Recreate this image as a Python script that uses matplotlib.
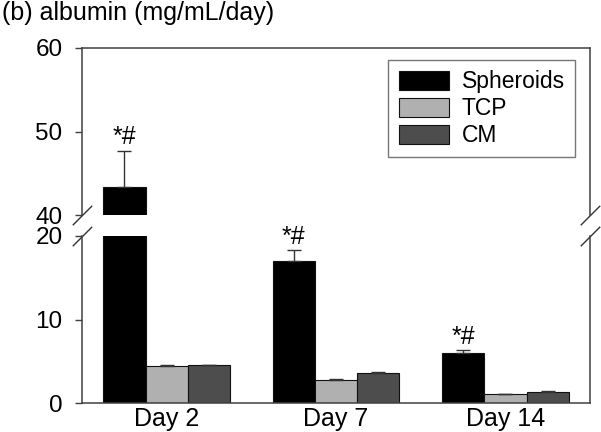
import numpy as np
import matplotlib
matplotlib.use('Agg')
from matplotlib import pyplot as plt

plt.rcParams['font.family'] = ['Liberation Sans', 'DejaVu Sans']

days = ['Day 2', 'Day 7', 'Day 14']
groups = ['Spheroids', 'TCP', 'CM']
spheroids = [43.4, 17.0, 6.0]
spheroids_err = [4.3, 1.3, 0.3]
tcp = [4.45, 2.75, 1.05]
tcp_err = [0.08, 0.08, 0.05]
cm = [4.5, 3.6, 1.3]
cm_err = [0.08, 0.08, 0.1]
marks = ['*#', '*#', '*#']

colors = ['#000000', '#b0b0b0', '#4d4d4d']
W, H = 601, 432
fig = plt.figure(figsize=(W/100, H/100), dpi=100)
ax_top = fig.add_axes([82/W, (H-215)/H, 508/W, 167/H])
ax_bot = fig.add_axes([82/W, (H-403)/H, 508/W, 167/H])

x = np.arange(len(days))
w = 0.25
data = [(spheroids, spheroids_err), (tcp, tcp_err), (cm, cm_err)]
for ax in (ax_top, ax_bot):
    for i, (vals, errs) in enumerate(data):
        ax.bar(x + (i-1)*w, vals, w, color=colors[i], edgecolor='#111111', lw=0.8,
               label=groups[i], yerr=[np.zeros(len(errs)), errs],
               error_kw=dict(ecolor='#333333', elinewidth=1, capsize=5, capthick=1))
    ax.set_xlim(-0.5, 2.5)
    for s in ax.spines.values():
        s.set_color('#404040')
        s.set_linewidth(1.1)
    ax.tick_params(axis='y', direction='out', length=5, width=1, pad=9,
                   labelsize=17.5, color='#404040', right=False)
    ax.tick_params(axis='x', length=0, labelsize=18, pad=3)

ax_top.set_ylim(40, 60)
ax_top.set_yticks([40, 50, 60])
ax_top.spines['bottom'].set_visible(False)
ax_top.set_xticks([])
ax_bot.set_ylim(0, 20)
ax_bot.set_yticks([0, 10, 20])
ax_bot.spines['top'].set_visible(False)
ax_bot.set_xticks(x)
ax_bot.set_xticklabels(days)

# break marks
kw = dict(marker=[(-1, -1), (1, 1)], markersize=14, linestyle='none',
          color='#333333', mec='#333333', mew=1, clip_on=False)
ax_top.plot([0, 1], [0, 0], transform=ax_top.transAxes, **kw)
ax_bot.plot([0, 1], [1, 1], transform=ax_bot.transAxes, **kw)

# significance marks
for i in range(len(days)):
    top = spheroids[i] + spheroids_err[i]
    ax = ax_top if top > 20 else ax_bot
    ax.annotate(marks[i], (x[i] - w, top), xytext=(0, 1), textcoords='offset points',
                ha='center', va='bottom', fontsize=18)

leg = ax_top.legend(loc='upper right', bbox_to_anchor=(575/W, (H-60)/H),
                    bbox_transform=fig.transFigure, fontsize=16.5, frameon=True,
                    fancybox=False, edgecolor='#555555', handlelength=2.2,
                    handleheight=0.9, labelspacing=0.17, borderpad=0.45,
                    handletextpad=0.55, borderaxespad=0)
leg.get_frame().set_linewidth(1)

fig.text(2/W, 1-1/H, '(b) albumin (mg/mL/day)', fontsize=18, ha='left', va='top')

fig.savefig('out.png', dpi=100)
